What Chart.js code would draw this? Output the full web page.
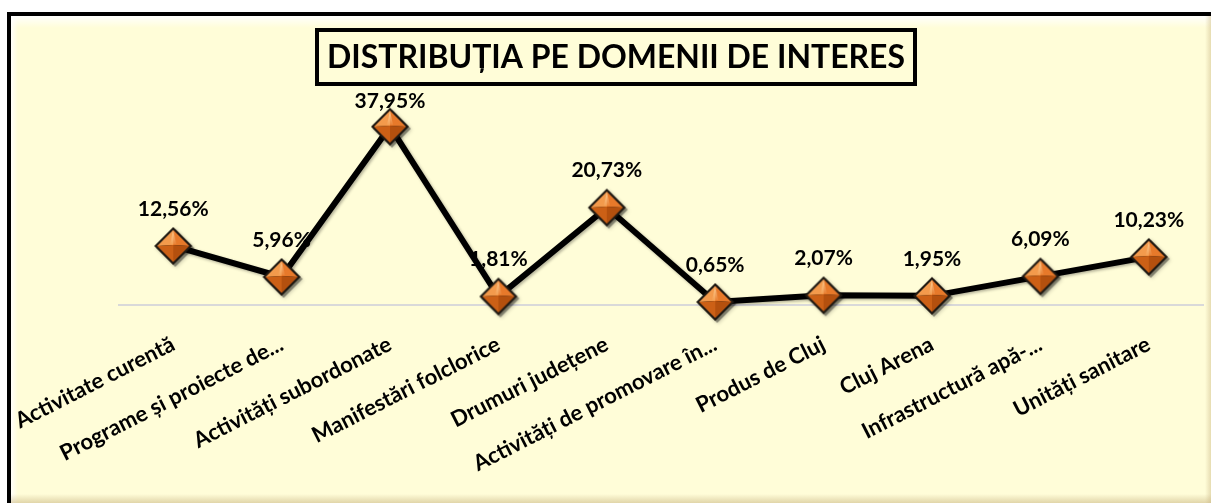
<!DOCTYPE html>
<html>
<head>
<meta charset="utf-8">
<script src="https://cdn.jsdelivr.net/npm/chart.js@4/dist/chart.umd.min.js"></script>
<style>
    html, body { margin: 0; padding: 0; background: #ffffff; }
    #wrap { width: 1211px; height: 503px; }
</style>
</head>
<body>
<div id="wrap"><canvas id="DomeniiChart" width="1211" height="503"></canvas></div>
<script>
var TitleText = 'DISTRIBUȚIA PE DOMENII DE INTERES'
var Categories = [
    'Activitate curentă',
    'Programe și proiecte de...',
    'Activități subordonate',
    'Manifestări folclorice',
    'Drumuri județene',
    'Activități de promovare în...',
    'Produs de Cluj',
    'Cluj Arena',
    'Infrastructură apă-...',
    'Unități sanitare'
]
var Procente = [12.56, 5.96, 37.95, 1.81, 20.73, 0.65, 2.07, 1.95, 6.09, 10.23]

var BgColor = '#FFFDD8'

// diamond marker with a bit of a 3D look
function makeDiamond() {
    var c = document.createElement('canvas')
    c.width = 46
    c.height = 46
    var g = c.getContext('2d')
    var cx = 23, cy = 23, r = 16

    function diamond(x, y, rr) {
        g.beginPath()
        g.moveTo(x, y - rr)
        g.lineTo(x + rr, y)
        g.lineTo(x, y + rr)
        g.lineTo(x - rr, y)
        g.closePath()
    }
    function face(ax, ay, bx, by, color) {
        g.beginPath()
        g.moveTo(cx, cy - 1)
        g.lineTo(ax, ay)
        g.lineTo(bx, by)
        g.closePath()
        g.fillStyle = color
        g.fill()
    }

    g.fillStyle = 'rgba(0,0,0,0.35)'
    diamond(cx + 2, cy + 2, r + 3)
    g.fill()

    g.fillStyle = '#1f1912'
    diamond(cx, cy, r + 3)
    g.fill()

    face(cx - r, cy, cx, cy - r, '#F39A4C')
    face(cx, cy - r, cx + r, cy, '#E7792A')
    face(cx + r, cy, cx, cy + r, '#B4500E')
    face(cx, cy + r, cx - r, cy, '#CC6016')

    var hl = g.createLinearGradient(cx, cy - r, cx, cy)
    hl.addColorStop(0, 'rgba(255,220,170,0.8)')
    hl.addColorStop(1, 'rgba(255,220,170,0)')
    g.beginPath()
    g.moveTo(cx, cy - r)
    g.lineTo(cx + 3, cy - 2)
    g.lineTo(cx - 3, cy - 2)
    g.closePath()
    g.fillStyle = hl
    g.fill()
    return c
}

var framePlugin = {
    id: 'frame',
    beforeDraw: function (chart) {
        var ctx = chart.ctx
        var w = chart.width, h = chart.height
        ctx.save()
        ctx.fillStyle = '#ffffff'
        ctx.fillRect(0, 0, w, h)
        ctx.fillStyle = BgColor
        ctx.fillRect(11, 16, w - 11, h - 16)

        // soft bevel
        var gt = ctx.createLinearGradient(0, 16, 0, 28)
        gt.addColorStop(0, 'rgba(255,255,255,0.95)')
        gt.addColorStop(1, 'rgba(255,255,255,0)')
        ctx.fillStyle = gt
        ctx.fillRect(11, 16, w - 11, 12)
        var gl = ctx.createLinearGradient(11, 0, 18, 0)
        gl.addColorStop(0, 'rgba(255,255,255,0.9)')
        gl.addColorStop(1, 'rgba(255,255,255,0)')
        ctx.fillStyle = gl
        ctx.fillRect(11, 16, 7, h - 16)
        var gb = ctx.createLinearGradient(0, h - 9, 0, h)
        gb.addColorStop(0, 'rgba(200,180,130,0)')
        gb.addColorStop(1, 'rgba(200,180,130,0.55)')
        ctx.fillStyle = gb
        ctx.fillRect(11, h - 9, w - 11, 9)
        var gr = ctx.createLinearGradient(w - 6, 0, w, 0)
        gr.addColorStop(0, 'rgba(200,180,130,0)')
        gr.addColorStop(1, 'rgba(200,180,130,0.45)')
        ctx.fillStyle = gr
        ctx.fillRect(w - 6, 16, 6, h - 16)

        ctx.fillStyle = '#000000'
        ctx.fillRect(7, 12, w - 7, 4)
        ctx.fillRect(7, 12, 4, h - 12)

        // title in a box
        ctx.fillStyle = BgColor
        ctx.fillRect(317, 30, 598, 54)
        ctx.lineWidth = 4
        ctx.strokeStyle = '#000000'
        ctx.strokeRect(317, 30, 598, 54)
        ctx.font = 'bold 32px Lato'
        ctx.textAlign = 'center'
        ctx.textBaseline = 'middle'
        ctx.fillStyle = '#000000'
        var tw = ctx.measureText(TitleText).width
        var sx = 578 / tw
        ctx.translate(616, 58)
        ctx.scale(sx, 1)
        ctx.fillText(TitleText, 0, 0)
        ctx.restore()
    }
}

var lineShadowPlugin = {
    id: 'lineShadow',
    beforeDatasetDraw: function (chart) {
        var ctx = chart.ctx
        ctx.shadowColor = 'rgba(0,0,0,0.3)'
        ctx.shadowBlur = 3
        ctx.shadowOffsetX = 1.5
        ctx.shadowOffsetY = 1.5
    },
    afterDatasetDraw: function (chart) {
        var ctx = chart.ctx
        ctx.shadowColor = 'rgba(0,0,0,0)'
        ctx.shadowBlur = 0
        ctx.shadowOffsetX = 0
        ctx.shadowOffsetY = 0
    }
}

var valueLabelsPlugin = {
    id: 'valueLabels',
    afterDatasetsDraw: function (chart) {
        var ctx = chart.ctx
        var meta = chart.getDatasetMeta(0)
        var minY = chart.chartArea.top - 16
        ctx.save()
        ctx.font = 'bold 21px Lato'
        ctx.fillStyle = '#000000'
        ctx.textAlign = 'center'
        ctx.textBaseline = 'middle'
        meta.data.forEach(function (pt, i) {
            var v = chart.data.datasets[0].data[i]
            ctx.fillText(v.toFixed(2).replace('.', ',') + '%', pt.x, Math.max(pt.y - 37, minY))
        })
        ctx.restore()
    }
}

var config_Domenii = {
    type: 'line',
    data: {
        labels: Categories,
        datasets: [{
            label: 'Procent',
            data: Procente,
            borderColor: '#000000',
            borderWidth: 6,
            tension: 0,
            clip: false,
            pointStyle: makeDiamond(),
            pointRadius: 19,
            pointHoverRadius: 19,
        }],
    },
    plugins: [framePlugin, lineShadowPlugin, valueLabelsPlugin],
    options: {
        responsive: false,
        animation: false,
        layout: {
            autoPadding: false,
            padding: { top: 117, left: 119, right: 8, bottom: 0 }
        },
        plugins: {
            legend: { display: false },
            title: { display: false },
            tooltip: { enabled: false },
        },
        scales: {
            x: {
                offset: true,
                grid: { display: false, drawTicks: false },
                border: { display: true, color: '#D9D9D9', width: 2 },
                afterFit: function (scale) {
                    scale.height = 198
                    scale.paddingLeft = 0
                    scale.paddingRight = 0
                },
                ticks: {
                    autoSkip: false,
                    minRotation: 27,
                    maxRotation: 27,
                    padding: 26,
                    color: '#000000',
                    font: { family: 'Lato', size: 22, weight: 'bold' },
                },
            },
            y: {
                display: false,
                min: 0,
                max: 40,
            }
        }
    },
}

var DomeniiChartElement = document.getElementById('DomeniiChart').getContext('2d')
new Chart(DomeniiChartElement, config_Domenii)
</script>
</body>
</html>
